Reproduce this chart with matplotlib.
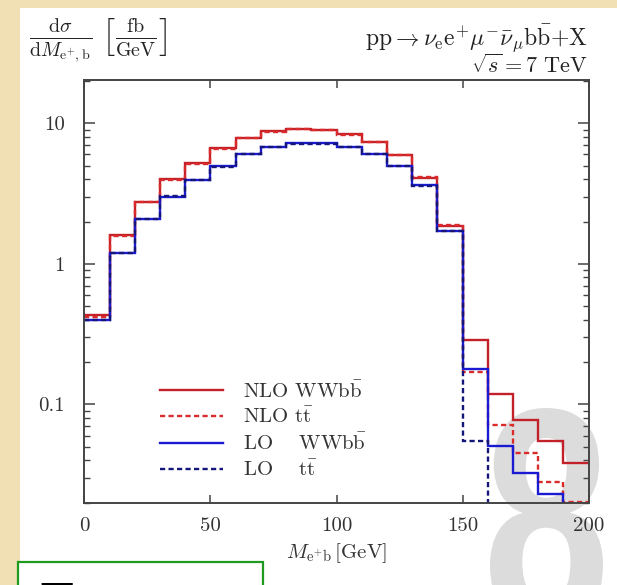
import numpy as np
import matplotlib
matplotlib.use('Agg')
import matplotlib.pyplot as plt
from matplotlib.patches import Rectangle, PathPatch
from matplotlib.textpath import TextPath
from matplotlib.font_manager import FontProperties
from matplotlib.transforms import Affine2D
from matplotlib.ticker import FixedLocator, FixedFormatter, LogLocator, NullFormatter

plt.rcParams['font.family'] = 'serif'
plt.rcParams['font.serif'] = ['cmr10']
plt.rcParams['mathtext.fontset'] = 'cm'
plt.rcParams['axes.unicode_minus'] = False

# bin edges of M_{e+b} in GeV
edges = np.arange(0, 201, 10)

# d sigma / dM in fb/GeV (tiny values = below the frame)
nlo_wwbb = [0.43, 1.61, 2.77, 3.98, 5.23, 6.62, 7.84, 8.74, 9.09, 8.94,
            8.32, 7.38, 5.97, 4.09, 1.85, 0.289, 0.119, 0.078, 0.055, 0.0385]
nlo_tt = [0.42, 1.57, 2.75, 3.95, 5.15, 6.55, 7.80, 8.70, 9.05, 8.90,
          8.28, 7.35, 5.95, 4.15, 1.88, 0.170, 0.0715, 0.045, 0.0281, 0.0201]
lo_wwbb = [0.40, 1.20, 2.10, 2.98, 3.96, 4.96, 6.07, 6.80, 7.19, 7.19,
           6.77, 6.07, 4.98, 3.61, 1.71, 0.180, 0.0509, 0.0324, 0.0232, 0.012]
lo_tt = [0.40, 1.20, 2.09, 3.02, 3.94, 4.90, 6.04, 6.78, 7.17, 7.17,
         6.75, 6.05, 4.95, 3.60, 1.70, 0.0547, 0.005, 0.005, 0.005, 0.005]

labels = [r'NLO $\mathrm{WWb\bar{b}}$', r'NLO $\mathrm{t\bar{t}}$',
          r'LO$\quad\;\,\mathrm{WWb\bar{b}}$', r'LO$\quad\;\,\mathrm{t\bar{t}}$']

xticks = [0, 50, 100, 150, 200]
yticks = [0.1, 1, 10]
ytick_labels = ['0.1', '1', '10']

W, H = 617, 585
fig = plt.figure(figsize=(W / 100, H / 100), dpi=100, facecolor='#f1e0b4')

# white page behind the plot
fig.patches.append(Rectangle((20 / W, 0), 1, 1 - 8 / H, transform=fig.transFigure,
                             facecolor='white', edgecolor='none', zorder=-1))

ax = fig.add_axes([84.3 / W, 1 - 502.7 / H, (588.7 - 84.3) / W, (502.7 - 80) / H])
ax.set_yscale('log')

series = [
    (nlo_wwbb, '#c2212a', '-'),
    (nlo_tt, '#da2a2a', (0, (2.2, 1.4))),
    (lo_wwbb, '#1a1ad2', '-'),
    (lo_tt, '#15157a', (0, (2.2, 1.4))),
]
for (vals, col, ls), lab in zip(series, labels):
    ax.stairs(vals, edges, baseline=None, color=col, linestyle=ls, lw=1.7, label=lab, zorder=2)

ax.set_xlim(0, 200)
ax.set_ylim(0.02, 20.3)

ax.xaxis.set_major_locator(FixedLocator(xticks))
ax.yaxis.set_major_locator(FixedLocator(yticks))
ax.yaxis.set_major_formatter(FixedFormatter(ytick_labels))
ax.yaxis.set_minor_locator(LogLocator(base=10, subs=np.arange(2, 10)))
ax.yaxis.set_minor_formatter(NullFormatter())
ax.tick_params(which='both', direction='in', top=True, right=True, colors='#444444',
               labelcolor='#333333', labelsize=15)
ax.tick_params(axis='x', which='major', length=6, width=1.1, pad=10)
ax.tick_params(axis='y', which='major', length=8, width=1.1, pad=14)
ax.tick_params(axis='y', which='minor', length=4, width=1.0)
for sp in ax.spines.values():
    sp.set_color('#444444')
    sp.set_linewidth(1.4)

ax.set_xlabel(r'$M_{\mathrm{e^{+}b}}\,[\mathrm{GeV}]$', fontsize=15, color='#333333', labelpad=5)

leg = ax.legend(loc='upper left', bbox_to_anchor=(150 / W, 1 - 370 / H),
                bbox_transform=fig.transFigure, frameon=False, fontsize=15,
                handlelength=3.0, handletextpad=0.95, labelspacing=0.26, borderpad=0)
for t in leg.get_texts():
    t.set_color('#333333')

# headers
fig.text(29 / W, 1 - 41 / H,
         r'$\frac{\mathrm{d}\sigma}{\mathrm{d}M_{\mathrm{e^{+},b}}}\ \left[\frac{\mathrm{fb}}{\mathrm{GeV}}\right]$',
         ha='left', va='center', fontsize=20.5, color='#222222')
fig.text(588 / W, 1 - 39 / H,
         r'$\mathrm{pp}\rightarrow\nu_{\mathrm{e}}\mathrm{e}^{+}\mu^{-}\bar{\nu}_{\mu}\mathrm{b\bar{b}}{+}\mathrm{X}$',
         ha='right', va='center', fontsize=17, color='#222222')
fig.text(588 / W, 1 - 65 / H, r'$\sqrt{s} = 7\ \mathrm{TeV}$',
         ha='right', va='center', fontsize=16, color='#222222')

# big grey "8" watermark behind the curves
tp = TextPath((0, 0), '8', size=1, prop=FontProperties(family='Liberation Sans', weight='bold'))
ext = tp.get_extents()
x0, x1 = 490 / W, 603 / W
ytop, ybot = 1 - 408 / H, 1 - 628 / H
tr = (Affine2D().translate(-ext.x0, -ext.y0)
      .scale((x1 - x0) / ext.width, (ytop - ybot) / ext.height)
      .translate(x0, ybot) + fig.transFigure)
eight = PathPatch(tp, transform=tr, facecolor='#dcdcdc', edgecolor='none', zorder=1)
ax.add_artist(eight)
eight.set_clip_on(False)

# green box at the bottom left, cut by the frame
fig.patches.append(Rectangle((18 / W, -0.1), (263 - 18) / W, 0.1 + (585 - 562) / H,
                             transform=fig.transFigure, facecolor='white',
                             edgecolor='#1f9a1f', lw=1.6, zorder=1))
fig.text(40 / W, 1 - 619 / H, 'Tevatron', ha='left', va='baseline', fontsize=38,
         fontweight='bold', family='Liberation Sans', color='black')

fig.savefig('out.png', dpi=100, facecolor=fig.get_facecolor())
